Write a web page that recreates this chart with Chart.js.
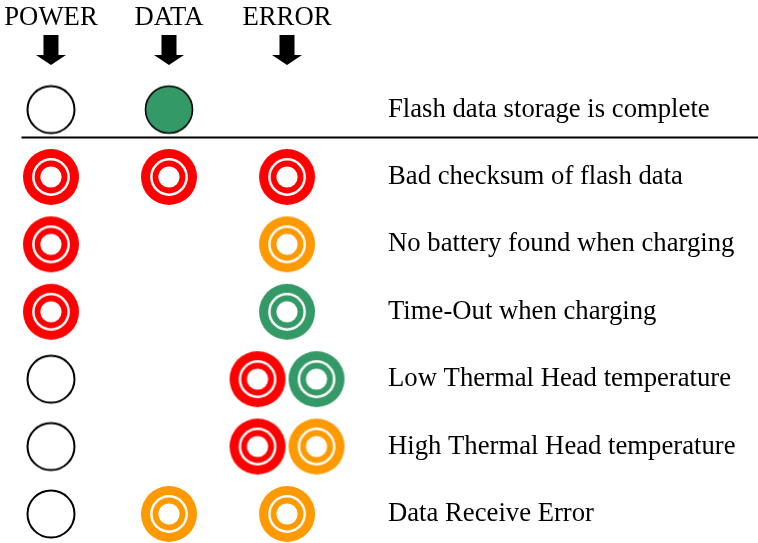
<!DOCTYPE html>
<html>
<head>
<meta charset="utf-8">
<script src="https://cdn.jsdelivr.net/npm/chart.js@4/dist/chart.umd.min.js"></script>
<style>
  html, body { margin: 0; padding: 0; background: #ffffff; }
  #c { display: block; }
</style>
</head>
<body>
<canvas id="c" width="758" height="543"></canvas>
<script>
// ---- data ----
const columnLabels = ["POWER", "DATA", "ERROR"];
const rowLabels = [
  "Flash data storage is complete",
  "Bad checksum of flash data",
  "No battery found when charging",
  "Time-Out when charging",
  "Low Thermal Head temperature",
  "High Thermal Head temperature",
  "Data Receive Error"
];
// LED state per row: "off" = unlit, "on-green" = steady, colour name = blinking
const powerLed = ["off", "red", "red", "red", "off", "off", "off"];
const dataLed  = ["on-green", "red", null, null, null, null, "orange"];
const errorLed = [null, "red", "orange", "green", "red+green", "red+orange", "orange"];

// ---- styles ----
const COLORS = { red: "#ff0000", orange: "#ff9900", green: "#339966" };
const FONT = "'Liberation Serif', 'Times New Roman', serif";

function makeCanvas(size, draw) {
  const cv = document.createElement("canvas");
  cv.width = size; cv.height = size;
  const ctx = cv.getContext("2d");
  draw(ctx, size / 2);
  return cv;
}
function circle(ctx, c, r) { ctx.beginPath(); ctx.arc(c, c, r, 0, Math.PI * 2); }
function ringImage(color) {
  return makeCanvas(60, (ctx, c) => {
    ctx.fillStyle = color; circle(ctx, c, 28); ctx.fill();
    ctx.fillStyle = "#ffffff"; circle(ctx, c, 18.9); ctx.fill();
    ctx.fillStyle = color; circle(ctx, c, 16.4); ctx.fill();
    ctx.fillStyle = "#ffffff"; circle(ctx, c, 10.6); ctx.fill();
  });
}
const images = {
  "off": makeCanvas(54, (ctx, c) => {
    ctx.fillStyle = "#ffffff"; ctx.strokeStyle = "#000000"; ctx.lineWidth = 2;
    circle(ctx, c, 23.5); ctx.fill(); ctx.stroke();
  }),
  "on-green": makeCanvas(54, (ctx, c) => {
    ctx.fillStyle = COLORS.green; ctx.strokeStyle = "#000000"; ctx.lineWidth = 1.6;
    circle(ctx, c, 23.5); ctx.fill(); ctx.stroke();
  }),
  "red": ringImage(COLORS.red),
  "orange": ringImage(COLORS.orange),
  "green": ringImage(COLORS.green)
};

// ---- build datasets from the data arrays ----
const columns = [powerLed, dataLed, errorLed];
const PAIR_GAP = 0.5;
const groups = {};
columns.forEach((col, c) => {
  col.forEach((state, r) => {
    if (!state) return;
    const parts = state.split("+");
    parts.forEach((s, k) => {
      const dx = (k - (parts.length - 1) / 2) * PAIR_GAP;
      (groups[s] = groups[s] || []).push({ x: c + dx, y: r });
    });
  });
});
const datasets = Object.keys(groups).map(s => ({
  label: s,
  data: groups[s],
  pointStyle: images[s],
  pointRadius: 10,
  pointHoverRadius: 10,
  showLine: false,
  clip: false
}));

const decorations = {
  id: "decorations",
  beforeDraw(chart) {
    const ctx = chart.ctx;
    ctx.save(); ctx.fillStyle = "#ffffff";
    ctx.fillRect(0, 0, chart.width, chart.height); ctx.restore();
  },
  afterDraw(chart) {
    const ctx = chart.ctx, xs = chart.scales.x, ys = chart.scales.y;
    ctx.save();
    // separator line below the first row
    const ly = Math.round(ys.getPixelForValue(0.4)) + 0.5;
    ctx.strokeStyle = "#000000"; ctx.lineWidth = 2;
    ctx.beginPath(); ctx.moveTo(xs.getPixelForValue(-0.25), ly); ctx.lineTo(chart.width, ly); ctx.stroke();
    // arrows under the column headers
    ctx.fillStyle = "#000000";
    const b = xs.bottom;
    columnLabels.forEach((_, i) => {
      const x = xs.getPixelForValue(i);
      ctx.beginPath();
      ctx.moveTo(x - 7.5, b - 40);
      ctx.lineTo(x + 7.5, b - 40);
      ctx.lineTo(x + 7.5, b - 20);
      ctx.lineTo(x + 15, b - 20);
      ctx.lineTo(x, b - 10);
      ctx.lineTo(x - 15, b - 20);
      ctx.lineTo(x - 7.5, b - 20);
      ctx.closePath();
      ctx.fill();
    });
    ctx.restore();
  }
};

new Chart(document.getElementById("c"), {
  type: "scatter",
  data: { datasets },
  options: {
    responsive: false,
    animation: false,
    devicePixelRatio: 1,
    layout: { padding: 0, autoPadding: false },
    plugins: { legend: { display: false }, tooltip: { enabled: false } },
    events: [],
    scales: {
      x: {
        type: "linear",
        position: "top",
        min: -0.432,
        max: 2.788,
        grid: { display: false, drawTicks: false },
        border: { display: false },
        afterBuildTicks: s => { s.ticks = columnLabels.map((_, i) => ({ value: i })); },
        afterFit: s => { s.height = 75; s.paddingLeft = 0; s.paddingRight = 0; },
        ticks: {
          autoSkip: false,
          maxRotation: 0,
          padding: 41,
          color: "#000000",
          font: { family: FONT, size: 26.7 },
          callback: v => columnLabels[v]
        }
      },
      y: {
        type: "linear",
        position: "right",
        reverse: true,
        min: -0.513,
        max: 6.431,
        grid: { display: false, drawTicks: false },
        border: { display: false },
        afterBuildTicks: s => { s.ticks = rowLabels.map((_, i) => ({ value: i })); },
        afterFit: s => { s.width = 378; s.paddingTop = 0; s.paddingBottom = 0; },
        ticks: {
          autoSkip: false,
          padding: 8,
          color: "#000000",
          font: { family: FONT, size: 26.7 },
          callback: v => rowLabels[v]
        }
      }
    }
  },
  plugins: [decorations]
});
</script>
</body>
</html>
